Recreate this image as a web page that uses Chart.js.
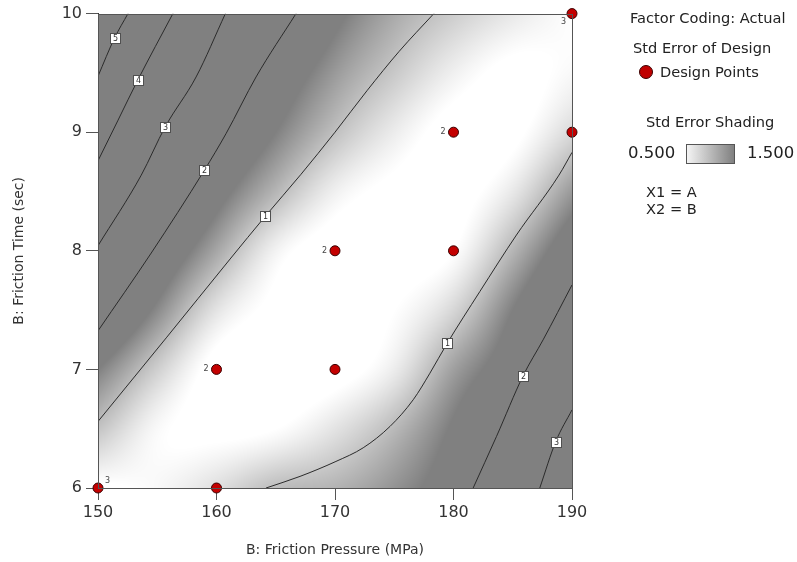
<!DOCTYPE html>
<html><head><meta charset="utf-8">
<script src="https://cdn.jsdelivr.net/npm/chart.js@4.4.0/dist/chart.umd.min.js"></script>
<style>
html,body{margin:0;padding:0;background:#fff;}
#wrap{position:relative;width:797px;height:562px;overflow:hidden;}
canvas{position:absolute;left:0;top:0;}
.lg{position:absolute;font-family:"DejaVu Sans",sans-serif;font-size:14.6px;color:#222;white-space:nowrap;line-height:16px;}
.big{font-size:16.5px;line-height:18px;}
#dot{position:absolute;left:639px;top:65px;width:12px;height:12px;border-radius:50%;background:#c00000;border:1px solid #3a0000;}
#grad{position:absolute;left:686px;top:144px;width:47px;height:18px;border:1px solid #555;background:linear-gradient(to right,#f4f4f4,#808080);}
</style></head><body>
<div id="wrap">
<canvas id="c" width="797" height="562"></canvas>
<div class="lg" style="left:630px;top:10px;">Factor Coding: Actual</div>
<div class="lg" style="left:633px;top:40px;">Std Error of Design</div>
<div id="dot"></div>
<div class="lg" style="left:660px;top:64px;">Design Points</div>
<div class="lg" style="left:646px;top:114px;">Std Error Shading</div>
<div class="lg big" style="left:628px;top:144px;">0.500</div>
<div id="grad"></div>
<div class="lg big" style="left:747px;top:144px;">1.500</div>
<div class="lg" style="left:646px;top:184px;">X1 = A</div>
<div class="lg" style="left:646px;top:201px;">X2 = B</div>
</div>
<script>
// ---- data ----
const xTicks = [150, 160, 170, 180, 190];
const yTicks = [6, 7, 8, 9, 10];
const gridX = [150, 155, 160, 165, 170, 175, 180, 185, 190];
const gridY = [6, 6.5, 7, 7.5, 8, 8.5, 9, 9.5, 10];
// std error of design estimated on the grid (rows = gridY, cols = gridX)
const stdErr = [
  [0.45, 0.55, 0.75, 1.02, 1.10, 1.35, 1.75, 2.50, 3.60],
  [0.97, 0.55, 0.45, 0.50, 0.72, 1.05, 1.55, 2.20, 3.18],
  [1.50, 0.88, 0.42, 0.40, 0.42, 0.65, 1.25, 1.80, 2.75],
  [2.24, 1.42, 0.72, 0.45, 0.42, 0.50, 0.82, 1.50, 2.25],
  [2.95, 1.95, 1.20, 0.60, 0.40, 0.42, 0.50, 1.08, 1.80],
  [3.64, 2.56, 1.68, 1.08, 0.62, 0.45, 0.42, 0.68, 1.30],
  [4.34, 3.11, 2.16, 1.50, 1.00, 0.65, 0.42, 0.45, 0.80],
  [5.05, 3.72, 2.69, 1.85, 1.30, 0.93, 0.62, 0.45, 0.55],
  [5.70, 4.35, 3.17, 2.29, 1.61, 1.18, 0.90, 0.68, 0.50]
];
const shadeLow = 0.5, shadeHigh = 1.5;
const designX = [150, 160, 160, 170, 170, 180, 180, 190, 190];
const designY = [6, 6, 7, 7, 8, 8, 9, 9, 10];
const designReps = [3, 1, 2, 1, 2, 1, 2, 1, 3];
const contour5 = [[150,9.472],[151.40,9.795],[152.53,10]];
const contour4 = [[150,8.759],[151.69,9.101],[153.37,9.442],[156.32,10]];
const contour3 = [[150,8.043],[153.65,8.638],[155.67,9.045],[158.28,9.466],[160.75,10]];
const contour2a = [[150,7.325],[154.49,7.981],[158.98,8.680],[160.81,8.989],[163.34,9.466],[166.71,10]];
const contour1a = [[150,6.561],[155.76,7.266],[161.15,7.931],[164.13,8.293],[167.13,8.645],[170.0,9.0],[172.7,9.35],[175.4,9.68],[178.34,10]];
const contour1b = [[164.18,6],[167.05,6.098],[170.08,6.224],[172.38,6.339],[174.64,6.519],[176.60,6.744],[178.01,6.968],[179.46,7.219],[182.22,7.656],[185.31,8.133],[188.90,8.638],[190,8.83]];
const contour2b = [[181.66,6.0],[183.63,6.435],[185.87,6.946],[187.56,7.249],[190,7.712]];
const contour3b = [[187.28,6.0],[188.63,6.392],[190,6.659]];
const labelX = [151.40, 153.37, 155.67, 158.98, 164.13, 179.46, 185.87, 188.63];
const labelY = [9.795, 9.442, 9.045, 8.680, 8.293, 7.219, 6.946, 6.392];
const labelText = ['5', '4', '3', '2', '1', '1', '2', '3'];

// ---- helpers ----
function cell(i, j) {
  const nx = gridX.length, ny = gridY.length;
  if (i < 0) return 2 * cell(0, j) - cell(1, j);
  if (i >= nx) return 2 * cell(nx - 1, j) - cell(nx - 2, j);
  if (j < 0) return 2 * cell(i, 0) - cell(i, 1);
  if (j >= ny) return 2 * cell(i, ny - 1) - cell(i, ny - 2);
  return stdErr[j][i];
}
function cr(p0, p1, p2, p3, t) {
  return p1 + 0.5 * t * (p2 - p0 + t * (2 * p0 - 5 * p1 + 4 * p2 - p3 + t * (3 * (p1 - p2) + p3 - p0)));
}
function sampleField(xv, yv) {
  const dx = gridX[1] - gridX[0], dy = gridY[1] - gridY[0];
  let fx = (xv - gridX[0]) / dx, fy = (yv - gridY[0]) / dy;
  let i = Math.min(Math.max(Math.floor(fx), 0), gridX.length - 2);
  let j = Math.min(Math.max(Math.floor(fy), 0), gridY.length - 2);
  const tx = Math.min(Math.max(fx - i, 0), 1), ty = Math.min(Math.max(fy - j, 0), 1);
  const r = [];
  for (let m = -1; m <= 2; m++) r.push(cr(cell(i - 1, j + m), cell(i, j + m), cell(i + 1, j + m), cell(i + 2, j + m), tx));
  return cr(r[0], r[1], r[2], r[3], ty);
}
function grayOf(v) {
  let t = (v - shadeLow) / (shadeHigh - shadeLow);
  t = Math.min(Math.max(t, 0), 1);
  return Math.round(255 - t * 127);
}

const shadePlugin = {
  id: 'shade',
  beforeDatasetsDraw(chart) {
    const { ctx, chartArea: a, scales } = chart;
    const L = Math.round(a.left), T = Math.round(a.top);
    const W = Math.round(a.right) - L, H = Math.round(a.bottom) - T;
    const img = ctx.createImageData(W, H);
    for (let j = 0; j < H; j++) {
      const yv = scales.y.getValueForPixel(T + j + 0.5);
      for (let i = 0; i < W; i++) {
        const xv = scales.x.getValueForPixel(L + i + 0.5);
        const g = grayOf(sampleField(xv, yv));
        const k = (j * W + i) * 4;
        img.data[k] = g; img.data[k + 1] = g; img.data[k + 2] = g; img.data[k + 3] = 255;
      }
    }
    ctx.putImageData(img, L, T);
  },
  afterDatasetsDraw(chart) {
    const { ctx, chartArea: a, scales } = chart;
    ctx.save();
    ctx.strokeStyle = '#555';
    ctx.lineWidth = 1;
    ctx.strokeRect(Math.round(a.left) + 0.5, Math.round(a.top) + 0.5, Math.round(a.right - a.left), Math.round(a.bottom - a.top));
    ctx.font = '8px "DejaVu Sans", sans-serif';
    ctx.textAlign = 'center';
    ctx.textBaseline = 'middle';
    for (let k = 0; k < labelX.length; k++) {
      const px = Math.round(scales.x.getPixelForValue(labelX[k]));
      const py = Math.round(scales.y.getPixelForValue(labelY[k]));
      ctx.fillStyle = '#fff';
      ctx.fillRect(px - 5, py - 5, 11, 11);
      ctx.strokeStyle = '#505050';
      ctx.strokeRect(px - 5 + 0.5, py - 5 + 0.5, 10, 10);
      ctx.fillStyle = '#333';
      ctx.fillText(labelText[k], px + 0.5, py + 1);
    }
    ctx.restore();
  },
  afterDraw(chart) {
    const { ctx, scales } = chart;
    ctx.save();
    ctx.font = '8px "DejaVu Sans", sans-serif';
    ctx.fillStyle = '#444';
    ctx.textBaseline = 'middle';
    for (let k = 0; k < designX.length; k++) {
      if (designReps[k] < 2) continue;
      const px = scales.x.getPixelForValue(designX[k]);
      const py = scales.y.getPixelForValue(designY[k]);
      let ox, oy = 0, al = 'right';
      if (designX[k] === scales.x.min) { ox = 7; oy = -7; al = 'left'; }
      else if (designX[k] === scales.x.max) { ox = -6; oy = 8; al = 'right'; }
      else { ox = -8; }
      ctx.textAlign = al;
      ctx.fillText(String(designReps[k]), px + ox, py + oy);
    }
    ctx.restore();
  }
};

function contourDs(pts) {
  return {
    type: 'scatter', showLine: true, order: 1,
    data: pts.map(p => ({ x: p[0], y: p[1] })),
    borderColor: '#2b2b2b', borderWidth: 1, pointRadius: 0,
    cubicInterpolationMode: 'monotone', fill: false
  };
}

const datasets = [
  {
    type: 'scatter', order: 0, clip: false,
    data: designX.map((x, i) => ({ x, y: designY[i] })),
    pointRadius: 5, pointHoverRadius: 5,
    backgroundColor: '#c40000', borderColor: '#3a0000', borderWidth: 1
  },
  contourDs(contour5), contourDs(contour4), contourDs(contour3), contourDs(contour2a),
  contourDs(contour1a), contourDs(contour1b), contourDs(contour2b), contourDs(contour3b)
];

new Chart(document.getElementById('c'), {
  type: 'scatter',
  data: { datasets },
  plugins: [shadePlugin],
  options: {
    responsive: false, animation: false, devicePixelRatio: 1,
    layout: { padding: { top: 13, right: 225, bottom: 0, left: 0 } },
    plugins: { legend: { display: false }, tooltip: { enabled: false } },
    scales: {
      x: {
        type: 'linear', min: xTicks[0], max: xTicks[xTicks.length - 1],
        afterBuildTicks: s => { s.ticks = xTicks.map(v => ({ value: v })); },
        afterFit: s => { s.height = 74; },
        grid: { drawOnChartArea: false, drawTicks: true, tickLength: 12, color: '#555' },
        border: { display: true, color: '#333' },
        ticks: { color: '#333', padding: 3, font: { family: 'DejaVu Sans', size: 16 } },
        title: { display: true, text: 'B: Friction Pressure (MPa)', color: '#333', padding: { top: 0, bottom: 3 }, font: { family: 'DejaVu Sans', size: 14 } }
      },
      y: {
        type: 'linear', min: yTicks[0], max: yTicks[yTicks.length - 1],
        afterBuildTicks: s => { s.ticks = yTicks.map(v => ({ value: v })); },
        afterFit: s => { s.width = 98; },
        grid: { drawOnChartArea: false, drawTicks: true, tickLength: 12, color: '#555' },
        border: { display: true, color: '#333' },
        ticks: { color: '#333', padding: 4, font: { family: 'DejaVu Sans', size: 16 } },
        title: { display: true, text: 'B: Friction Time (sec)', color: '#333', padding: { top: 11, bottom: 0 }, font: { family: 'DejaVu Sans', size: 14 } }
      }
    }
  }
});
</script>
</body></html>
